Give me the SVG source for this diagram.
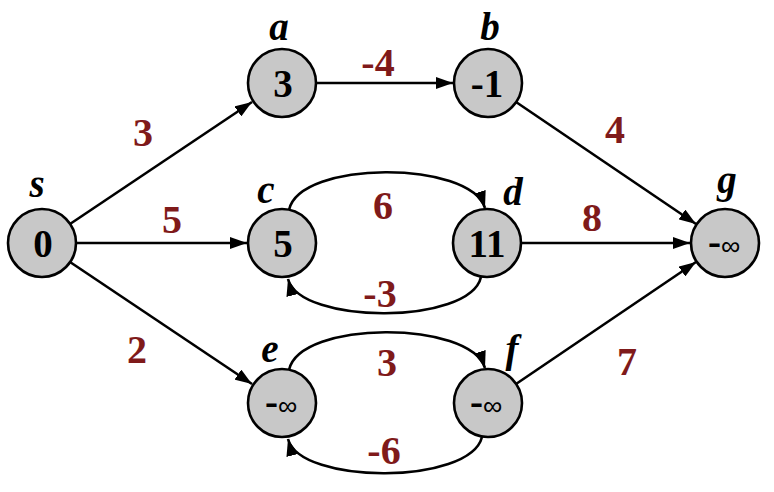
<svg xmlns="http://www.w3.org/2000/svg" width="774" height="492" viewBox="0 0 774 492">
<style>
.node circle{fill:#c8c8c8;stroke:#000;stroke-width:2.6}
.val{font-family:"Liberation Serif",serif;font-weight:bold;font-size:39px;text-anchor:middle;fill:#000}
.inf{font-family:"Liberation Sans",sans-serif;font-weight:normal;font-size:27px}
.name{font-family:"Liberation Serif",serif;font-weight:bold;font-style:italic;font-size:39px;text-anchor:middle;fill:#000}
.w{font-family:"Liberation Serif",serif;font-weight:bold;font-size:40px;text-anchor:middle;fill:#7f1a1a}
.edge{fill:none;stroke:#000;stroke-width:2.6;marker-end:url(#arr)}
</style>
<defs>
<marker id="arr" markerUnits="userSpaceOnUse" markerWidth="18" markerHeight="12" refX="17" refY="6" orient="auto">
<path d="M0,0 L17,6 L0,12 z" fill="#000"/>
</marker>
</defs>
<rect width="774" height="492" fill="#fff"/>
<g id="connectors">
<path class="edge" d="M70,224 L252,102"/>
<path class="edge" d="M76,243 L247,243"/>
<path class="edge" d="M70,262 L252,384"/>
<path class="edge" d="M316,83 L453,83"/>
<path class="edge" d="M516,102 L696,224"/>
<path class="edge" d="M521,243 L690,243"/>
<path class="edge" d="M516,384 L696,262"/>
<path class="edge" d="M289,210 C300,160 470,160 485,208"/>
<path class="edge" d="M481,277 C470,325 300,325 288,279"/>
<path class="edge" d="M289,370 C300,320 470,320 485,368"/>
<path class="edge" d="M482,437 C470,485 300,485 288,439"/>
<text class="w" x="143" y="146">3</text>
<text class="w" x="172" y="233">5</text>
<text class="w" x="137" y="363">2</text>
<text class="w" x="378" y="76">-4</text>
<text class="w" x="615" y="143">4</text>
<text class="w" x="383" y="219">6</text>
<text class="w" x="380" y="307">-3</text>
<text class="w" x="592" y="231">8</text>
<text class="w" x="387" y="376">3</text>
<text class="w" x="384" y="464">-6</text>
<text class="w" x="627" y="375">7</text>
</g>
<g id="node-s" class="node"><circle cx="42" cy="243" r="34"/><text class="val" x="43" y="257">0</text><text class="name" x="37" y="197">s</text></g>
<g id="node-a" class="node"><circle cx="282" cy="83" r="34"/><text class="val" x="283" y="97">3</text><text class="name" x="279" y="40">a</text></g>
<g id="node-b" class="node"><circle cx="488" cy="83" r="34"/><text class="val" x="487" y="97">-1</text><text class="name" x="490" y="40">b</text></g>
<g id="node-c" class="node"><circle cx="282" cy="243" r="34"/><text class="val" x="283" y="257">5</text><text class="name" x="266" y="203">c</text></g>
<g id="node-d" class="node"><circle cx="487" cy="243" r="34"/><text class="val" x="487" y="257">11</text><text class="name" x="513" y="205">d</text></g>
<g id="node-e" class="node"><circle cx="282" cy="403" r="34"/><text class="val" x="281" y="415">-<tspan class="inf">∞</tspan></text><text class="name" x="270" y="362">e</text></g>
<g id="node-f" class="node"><circle cx="488" cy="403" r="34"/><text class="val" x="486" y="415">-<tspan class="inf">∞</tspan></text><text class="name" x="512" y="362">f</text></g>
<g id="node-g" class="node"><circle cx="725" cy="243" r="34"/><text class="val" x="724" y="255">-<tspan class="inf">∞</tspan></text><text class="name" x="727" y="193">g</text></g>
</svg>
